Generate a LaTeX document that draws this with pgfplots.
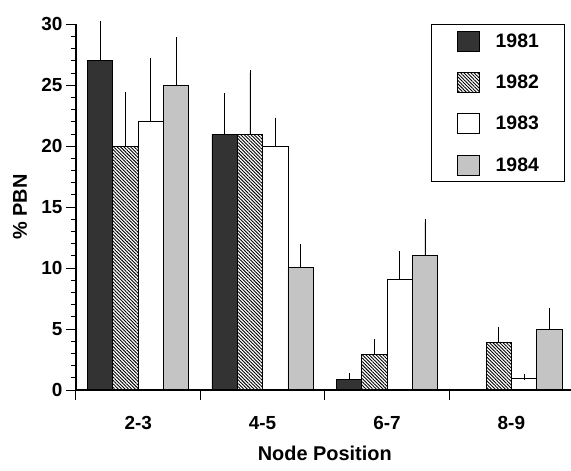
\documentclass[border=0pt]{standalone}
\usepackage{fontspec}
\setmainfont{Liberation Sans}
\usepackage{pgfplots}
\pgfplotsset{compat=1.18}
\usetikzlibrary{patterns.meta,calc}
\definecolor{dark}{HTML}{333333}
\definecolor{stip}{HTML}{C4C4C4}

\begin{document}
\begin{tikzpicture}
\begin{axis}[
  scale only axis, width=497.6bp, height=365.7bp,
  xmin=0, xmax=4, ymin=0, ymax=30,
  clip=false, axis on top,
  axis x line*=bottom, axis y line*=left,
  axis line style={line width=1.1bp, -},
  ybar, bar width=25.3bp, bar shift=0pt,
  xtick={0.5,1.5,2.5,3.5}, xticklabels={2-3,4-5,6-7,8-9},
  major x tick style={draw=none},
  xticklabel style={yshift=-13bp},
  ytick={0,5,...,30}, minor ytick={0,1,...,30},
  tick align=outside,
  major tick length=10bp, minor tick length=5bp,
  tick style={line width=1bp, black},
  /pgf/number format/assume math mode=true,
  ticklabel style={font=\fontsize{19}{19}\selectfont\bfseries},
  xlabel={Node Position}, ylabel={\% PBN},
  xlabel style={font=\fontsize{20}{20}\selectfont\bfseries,
    at={(axis description cs:0.5,0)}, anchor=center, yshift=-63bp},
  ylabel style={font=\fontsize{20}{20}\selectfont\bfseries,
    at={(axis description cs:0,0.5)}, anchor=center, yshift=56bp},
  legend style={at={(axis description cs:1,1)}, anchor=north east,
    xshift=-9.3bp, yshift=0bp, draw=black, line width=0.8bp,
    inner xsep=25bp, inner ysep=6bp, row sep=20.5bp,
    font=\fontsize{19.5}{19.5}\selectfont\bfseries,
    nodes={inner sep=0pt}},
  legend cell align=left,
  leg/.style={legend image code/.code={\draw[##1, draw=black, line width=0.8bp] (0bp,-10bp) rectangle (22bp,10bp); \path (38bp,0bp);}},
  every axis plot/.append style={draw=black, line width=0.8bp,
    error bars/y dir=plus, error bars/y explicit,
    error bars/error bar style={line width=0.8bp, black},
    error bars/error mark options={mark size=3bp, line width=0.8bp, black}},
]
\addplot[fill=dark, bar shift=-37.95bp, leg] coordinates {
  (0.5,27) +- (0,3.0)
  (1.5,21) +- (0,3.1)
  (2.5,0.9) +- (0,0.25)
};
\addplot[pattern={Lines[angle=-45,distance=2.4bp,line width=0.9bp]}, pattern color=black, bar shift=-12.65bp, leg] coordinates {
  (0.5,20) +- (0,4.2)
  (1.5,21) +- (0,5.0)
  (2.5,2.95) +- (0,1.0)
  (3.5,3.9) +- (0,1.05)
};
\addplot[fill=white, bar shift=12.65bp, leg] coordinates {
  (0.5,22) +- (0,5.0)
  (1.5,20) +- (0,2.1)
  (2.5,9.05) +- (0,2.1)
  (3.5,0.96) +- (0,0.1)
};
\addplot[fill=stip, bar shift=37.95bp, leg] coordinates {
  (0.5,25) +- (0,3.7)
  (1.5,10.05) +- (0,1.7)
  (2.5,11.05) +- (0,2.75)
  (3.5,4.97) +- (0,1.55)
};
\legend{1981,1982,1983,1984}
% group separator ticks
\pgfplotsinvokeforeach{0,1,2,3}{
  \draw[line width=1bp] (axis cs:#1,0) -- ++(0,-10bp);
}
\end{axis}
\pgfresetboundingbox
\path ($(current axis.south west)+(-76bp,-81bp)$) rectangle ++(571bp,471bp);
\end{tikzpicture}
\end{document}
